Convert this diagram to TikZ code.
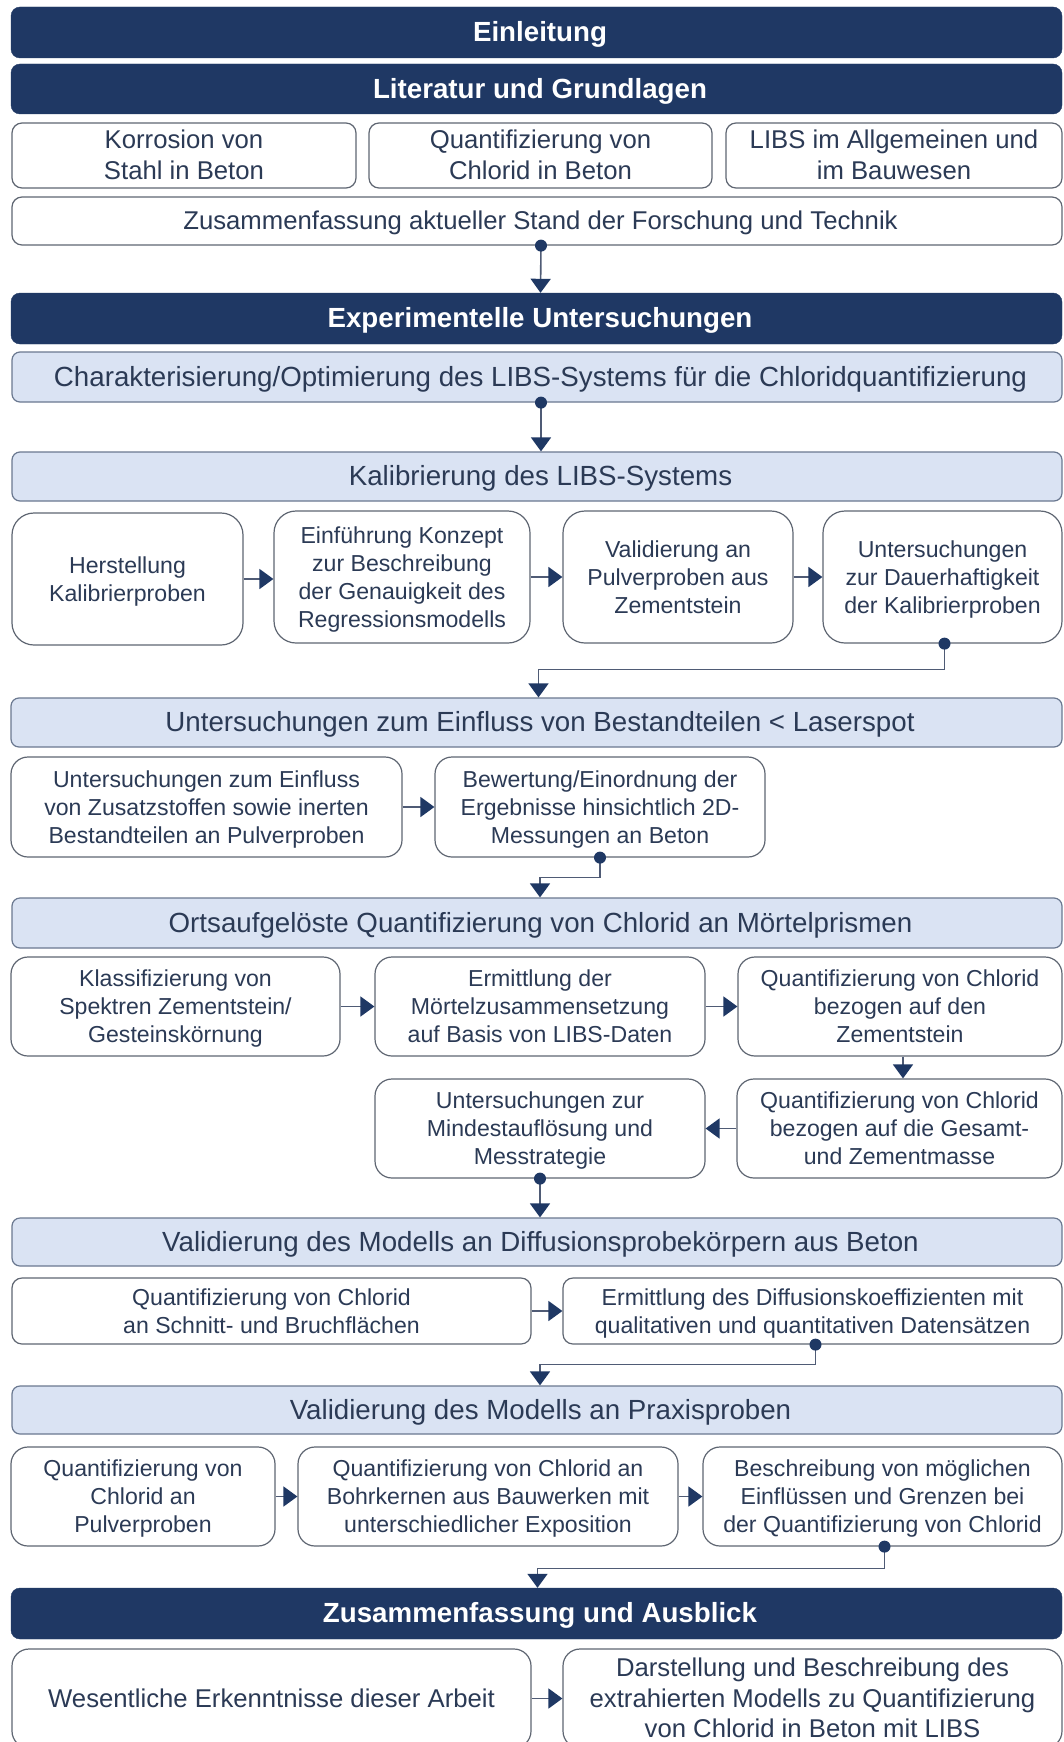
\documentclass[tikz,border=0pt]{standalone}
\usepackage{fontspec}
\setmainfont{Liberation Sans}
\usetikzlibrary{arrows.meta,calc}

\definecolor{navy}{HTML}{1F3864}
\definecolor{paleblue}{HTML}{DAE3F3}
\definecolor{textc}{HTML}{2B3A55}
\definecolor{boxline}{HTML}{5F6672}
\definecolor{pbline}{HTML}{6A7890}
\definecolor{connc}{HTML}{4F5B75}

\newcommand\fontTop{\fontsize{25.7}{31}\selectfont}
\newcommand\fontMid{\fontsize{23.1}{28}\selectfont}
\newcommand\fontHead{\fontsize{27.7}{33}\selectfont}

% centred lines, set a little lower than the measured box
\newcommand\boxtext[1]{\raisebox{-2.7pt}[\height][\depth]{\begin{tabular}{@{}c@{}}#1\end{tabular}}}

% \boxnode{style}{name}{x1}{y1}{x2}{y2}{text}: node spanning the given corners
\newcommand\boxnode[7]{%
  \node[#1, minimum width={#5pt-#3pt}, minimum height={#6pt-#4pt}]
    (#2) at ({(#3+#5)/2},{(#4+#6)/2}) {\boxtext{#7}};}

% \fullrow{style}{name}{x1}{y1}{y2}{text}: row reaching the right edge,
% its label sitting slightly right of the middle
\newcommand\fullrow[6]{%
  \node[#1, minimum width={1062pt-#3pt}, minimum height={#5pt-#4pt}]
    (#2) at ({(#3+1062)/2},{(#4+#5)/2}) {\kern7pt\boxtext{#6}};}

\begin{document}
\begin{tikzpicture}[x=1pt,y=-1pt,
  bar/.style={fill=navy, draw=navy, rounded corners=9pt, inner sep=0pt,
    text=white, font=\fontHead\bfseries},
  pbar/.style={fill=paleblue, draw=pbline, line width=1.2pt, rounded corners=8pt,
    inner sep=0pt, text=textc, font=\fontHead},
  wbox/.style={fill=white, draw=boxline, line width=1.2pt, rounded corners=10pt,
    inner sep=0pt, text=textc, font=\fontMid},
  topbox/.style={wbox, font=\fontTop},
  midbox/.style={wbox, rounded corners=17pt},
  bigbox/.style={wbox, rounded corners=22pt},
  flow/.style={draw=connc, line width=1.6pt,
    -{Triangle[width=20pt,length=14pt,color=navy]}},
  srcdot/.style={fill=navy}
]
\useasboundingbox (0,0) rectangle (1063,1742);
\clip (0,0) rectangle (1063,1742);
\fill[white] (0,0) rectangle (1063,1742);

% --- Einleitung / Literatur
\fullrow{bar}{einl}{11}{7}{58}{Einleitung}
\fullrow{bar}{lit}{11}{64}{114}{Literatur und Grundlagen}
\boxnode{topbox}{korr}{12}{123}{356}{188}{Korrosion von\\Stahl in Beton}
\boxnode{topbox}{quantb}{369}{123}{712}{188}{Quantifizierung von\\Chlorid in Beton}
\boxnode{topbox}{libs}{726}{123}{1062}{188}{LIBS im Allgemeinen und\\im Bauwesen}
\fullrow{topbox}{stand}{12}{197}{245}{Zusammenfassung aktueller Stand der Forschung und Technik}

% --- Experimentelle Untersuchungen
\fullrow{bar}{exp}{11}{293}{344}{Experimentelle Untersuchungen}
\fullrow{pbar}{char}{12}{352}{402}{Charakterisierung/Optimierung des LIBS-Systems für die Chloridquantifizierung}
\fullrow{pbar}{kal}{12}{452}{501}{Kalibrierung des LIBS-Systems}

\boxnode{bigbox}{herst}{12}{513}{243}{645}{Herstellung\\Kalibrierproben}
\boxnode{bigbox}{konz}{274}{511}{530}{643}{Einführung Konzept\\zur Beschreibung\\der Genauigkeit des\\Regressionsmodells}
\boxnode{bigbox}{valid}{563}{511}{793}{643}{Validierung an\\Pulverproben aus\\Zementstein}
\boxnode{bigbox}{dauer}{823}{511}{1062}{643}{Untersuchungen\\zur Dauerhaftigkeit\\der Kalibrierproben}

\fullrow{pbar}{einf}{11}{698}{747}{Untersuchungen zum Einfluss von Bestandteilen < Laserspot}
\boxnode{midbox}{zusatz}{11}{757}{402}{857}{Untersuchungen zum Einfluss\\von Zusatzstoffen sowie inerten\\Bestandteilen an Pulverproben}
\boxnode{midbox}{bewert}{435}{757}{765}{857}{Bewertung/Einordnung der\\Ergebnisse hinsichtlich 2D-\\Messungen an Beton}

\fullrow{pbar}{orts}{12}{898}{948}{Ortsaufgelöste Quantifizierung von Chlorid an Mörtelprismen}
\boxnode{midbox}{klass}{11}{957}{340}{1056}{Klassifizierung von\\Spektren Zementstein/\\Gesteinskörnung}
\boxnode{midbox}{moertel}{375}{957}{705}{1056}{Ermittlung der\\Mörtelzusammensetzung\\auf Basis von LIBS-Daten}
\boxnode{midbox}{qzem}{738}{957}{1062}{1056}{Quantifizierung von Chlorid\\bezogen auf den\\Zementstein}
\boxnode{midbox}{mindest}{375}{1079}{705}{1178}{Untersuchungen zur\\Mindestauflösung und\\Messtrategie}
\boxnode{midbox}{qges}{737}{1079}{1062}{1178}{Quantifizierung von Chlorid\\bezogen auf die Gesamt-\\und Zementmasse}

\fullrow{pbar}{diff}{12}{1218}{1266}{Validierung des Modells an Diffusionsprobekörpern aus Beton}
\boxnode{wbox}{schnitt}{12}{1278}{531}{1344}{Quantifizierung von Chlorid\\an Schnitt- und Bruchflächen}
\boxnode{wbox}{dkoef}{563}{1278}{1062}{1344}{Ermittlung des Diffusionskoeffizienten mit\\qualitativen und quantitativen Datensätzen}

\fullrow{pbar}{prax}{12}{1386}{1434}{Validierung des Modells an Praxisproben}
\boxnode{midbox}{pulver}{11}{1447}{275}{1546}{Quantifizierung von\\Chlorid an\\Pulverproben}
\boxnode{midbox}{bohr}{298}{1447}{678}{1546}{Quantifizierung von Chlorid an\\Bohrkernen aus Bauwerken mit\\unterschiedlicher Exposition}
\boxnode{midbox}{grenz}{703}{1447}{1062}{1546}{Beschreibung von möglichen\\Einflüssen und Grenzen bei\\der Quantifizierung von Chlorid}

% --- Zusammenfassung und Ausblick
\fullrow{bar}{zus}{11}{1588}{1639}{Zusammenfassung und Ausblick}
\boxnode{midbox, font=\fontTop}{wes}{12}{1649}{531}{1748}{Wesentliche Erkenntnisse dieser Arbeit}
\boxnode{midbox, font={\fontsize{25.7}{30.5}\selectfont}}{darst}{563}{1649}{1062}{1748}{Darstellung und Beschreibung des\\extrahierten Modells zu Quantifizierung\\von Chlorid in Beton mit LIBS}

% --- connectors
\draw[flow] ($(stand.south)+(4,0)$) -- ($(exp.north)+(4,0)$);
\fill[srcdot] ($(stand.south)+(4,0)$) circle (6pt);

\draw[flow] ($(char.south)+(4,0)$) -- ($(kal.north)+(4,0)$);
\fill[srcdot] ($(char.south)+(4,0)$) circle (6pt);

\draw[flow] (herst.east) -- (herst.east -| konz.west);
\draw[flow] (konz.east) -- (konz.east -| valid.west);
\draw[flow] (valid.east) -- (valid.east -| dauer.west);
\draw[flow] ($(dauer.south)+(2,0)$) -- ++(0,26) -| ($(einf.north)+(2,0)$);
\fill[srcdot] ($(dauer.south)+(2,0)$) circle (6pt);

\draw[flow] (zusatz.east) -- (zusatz.east -| bewert.west);
\draw[flow] (bewert.south) -- ++(0,20) -| ($(orts.north)+(3,0)$);
\fill[srcdot] (bewert.south) circle (6pt);

\draw[flow] (klass.east) -- (klass.east -| moertel.west);
\draw[flow] (moertel.east) -- (moertel.east -| qzem.west);
\draw[flow] ($(qzem.south)+(3,0)$) -- ($(qzem.south |- qges.north)+(3,0)$);
\draw[flow] (qges.west) -- (qges.west -| mindest.east);
\draw[flow] (mindest.south) -- (mindest.south |- diff.north);
\fill[srcdot] (mindest.south) circle (6pt);

\draw[flow] (schnitt.east) -- (schnitt.east -| dkoef.west);
\draw[flow] ($(dkoef.south)+(3,0)$) -- ++(0,20) -| ($(prax.north)+(3,0)$);
\fill[srcdot] ($(dkoef.south)+(3,0)$) circle (6pt);

\draw[flow] (pulver.east) -- (pulver.east -| bohr.west);
\draw[flow] (bohr.east) -- (bohr.east -| grenz.west);
\draw[flow] ($(grenz.south)+(2,0)$) -- ++(0,22) -| ($(zus.north)+(1,0)$);
\fill[srcdot] ($(grenz.south)+(2,0)$) circle (6pt);

\draw[flow] (wes.east) -- (wes.east -| darst.west);
\end{tikzpicture}
\end{document}
